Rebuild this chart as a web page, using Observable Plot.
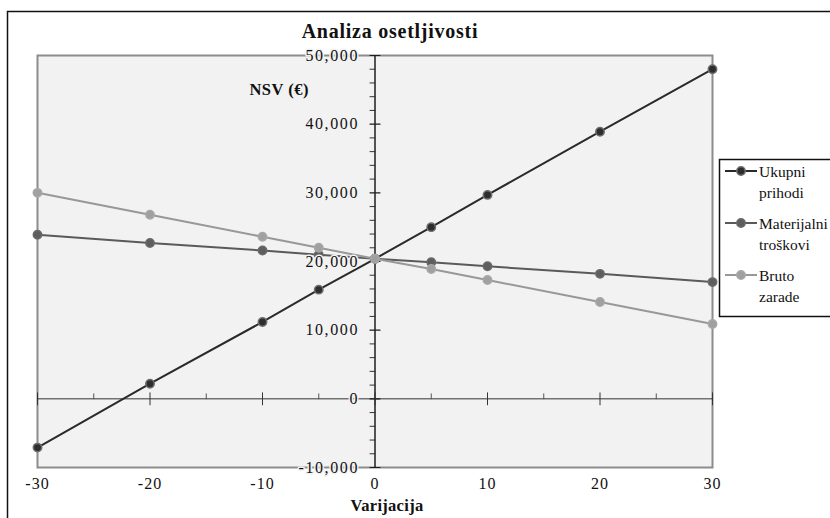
<!DOCTYPE html>
<html>
<head>
<meta charset="utf-8">
<script src="https://cdn.jsdelivr.net/npm/d3@7"></script>
<script src="https://cdn.jsdelivr.net/npm/@observablehq/plot@0.6"></script>
<style>
  html, body { margin: 0; padding: 0; background: #fff; }
  #wrap { position: relative; width: 830px; height: 518px; overflow: hidden; font-family: "Liberation Serif", "Times New Roman", "DejaVu Serif", serif; }
  #wrap > svg { position: absolute; left: 0; top: 0; }
  #wrap svg, #wrap text { font-family: "Liberation Serif", "Times New Roman", "DejaVu Serif", serif !important; }
</style>
</head>
<body>
<div id="wrap"></div>
<script>
// ---- data ----
const variations = [-30, -20, -10, -5, 0, 5, 10, 20, 30];
const ukupniPrihodi = [-7100, 2200, 11200, 15900, 20400, 25000, 29700, 38900, 48000];
const materijalniTroskovi = [23900, 22700, 21600, 21000, 20400, 19900, 19300, 18200, 17000];
const brutoZarade = [30000, 26800, 23600, 22000, 20400, 18900, 17300, 14100, 10900];
const seriesNames = ["Ukupni prihodi", "Materijalni troškovi", "Bruto zarade"];
const legendLabels = [["Ukupni", "prihodi"], ["Materijalni", "troškovi"], ["Bruto", "zarade"]];
const yTicks = [-10000, 0, 10000, 20000, 30000, 40000, 50000];
const xTicks = [-30, -20, -10, 0, 10, 20, 30];
const titleText = "Analiza osetljivosti";
const yLabel = "NSV (€)";
const xLabel = "Varijacija";

// ---- styles ----
const lineColors = ["#2a2a2a", "#5a5a5a", "#989898"];
const markerFill = ["#2e2e2e", "#5e5e5e", "#a0a0a0"];
const markerStroke = ["#6e6e6e", "#6a6a6a", "#a8a8a8"];

const seriesValues = [ukupniPrihodi, materijalniTroskovi, brutoZarade];
const seriesRows = seriesValues.map((vals, s) =>
  vals.map((v, i) => ({ series: seriesNames[s], x: variations[i], y: v })));

const yMinor = d3.range(-10000, 50001, 2000).filter(v => v % 10000 !== 0);
const xMinor = d3.range(-25, 30, 10);
const tickShape = { draw(context, l) { context.moveTo(0, 0); context.lineTo(0, -l); } };
const fmt = d => d.toLocaleString("en-US");

const marks = [
  Plot.frame({ fill: "#f2f2f2", stroke: "#8c8c8c", strokeWidth: 2 }),
  Plot.ruleY([0], { stroke: "#333", strokeWidth: 1 }),
  Plot.ruleX([0], { stroke: "#1e1e1e", strokeWidth: 1.5 }),
  // y ticks
  Plot.vector(yMinor, { x: 0, y: d => d, length: 5, rotate: -90, anchor: "start", shape: tickShape, stroke: "#333", strokeWidth: 1 }),
  Plot.vector(yTicks, { x: 0, y: d => d, length: 10, rotate: 90, anchor: "middle", shape: tickShape, stroke: "#1e1e1e", strokeWidth: 1.2 }),
  // x ticks
  Plot.vector(xMinor, { x: d => d, y: 0, length: 5, rotate: 0, anchor: "start", shape: tickShape, stroke: "#555", strokeWidth: 1 }),
  Plot.vector(xTicks, { x: d => d, y: 0, length: 12, rotate: 0, anchor: "middle", shape: tickShape, stroke: "#333", strokeWidth: 1 })
];

seriesRows.forEach((rows, s) => {
  marks.push(Plot.line(rows, { x: "x", y: "y", stroke: lineColors[s], strokeWidth: 2 }));
  marks.push(Plot.dot(rows, { x: "x", y: "y", r: 4.2, fill: markerFill[s], stroke: markerStroke[s], strokeWidth: 1.5 }));
});

marks.push(
  Plot.text(yTicks, { x: 0, y: d => d, text: fmt, textAnchor: "end", dx: -16, fontSize: 16, fill: "#111",
    stroke: "#f2f2f2", strokeWidth: 3 }),
  Plot.text(xTicks, { x: d => d, frameAnchor: "bottom", dy: 21, text: d => String(d), fontSize: 16, fill: "#111" })
);

const chart = Plot.plot({
  width: 830,
  height: 518,
  marginLeft: 37,
  marginRight: 118,
  marginTop: 55,
  marginBottom: 51,
  x: { domain: [-30, 30], axis: null },
  y: { domain: [-10000, 50000], axis: null },
  style: { fontFamily: "Liberation Serif, serif", background: "transparent", color: "#111" },
  marks
});

// widen tick label spacing (the original's labels are set loosely)
d3.select(chart).selectAll("text").style("letter-spacing", "1px");
d3.select(chart).selectAll('g[text-anchor="end"] text').style("letter-spacing", "1.6px");

const wrap = document.getElementById("wrap");
wrap.appendChild(chart);

// ---- overlay: frame, titles and legend ----
const ov = d3.select(wrap).append("svg")
  .attr("width", 830).attr("height", 518)
  .attr("font-family", "Liberation Serif, serif");

ov.append("rect").attr("x", 7.5).attr("y", 11.5).attr("width", 840).attr("height", 530)
  .attr("fill", "none").attr("stroke", "#111").attr("stroke-width", 1.5);

ov.append("text").attr("x", 390).attr("y", 38).attr("text-anchor", "middle")
  .attr("font-size", 20).attr("font-weight", "bold").attr("letter-spacing", 0.75).attr("fill", "#111")
  .text(titleText);

ov.append("text").attr("x", 309).attr("y", 95).attr("text-anchor", "end")
  .attr("font-size", 16.5).attr("font-weight", "bold").attr("letter-spacing", 0.5).attr("fill", "#111")
  .text(yLabel);

ov.append("text").attr("x", 387).attr("y", 511).attr("text-anchor", "middle")
  .attr("font-size", 16.5).attr("font-weight", "bold").attr("letter-spacing", 0.3).attr("fill", "#111")
  .text(xLabel);

const lg = ov.append("g");
lg.append("rect").attr("x", 719.5).attr("y", 159.5).attr("width", 130).attr("height", 157)
  .attr("fill", "#fff").attr("stroke", "#111").attr("stroke-width", 1.5);
legendLabels.forEach((lines, i) => {
  const cy = 171 + i * 52;
  lg.append("line").attr("x1", 725).attr("x2", 757).attr("y1", cy).attr("y2", cy)
    .attr("stroke", lineColors[i]).attr("stroke-width", 2);
  lg.append("circle").attr("cx", 741).attr("cy", cy).attr("r", 4.2)
    .attr("fill", markerFill[i]).attr("stroke", markerStroke[i]).attr("stroke-width", 1.5);
  lines.forEach((t, j) => {
    lg.append("text").attr("x", 759).attr("y", cy + 6 + j * 21)
      .attr("font-size", 15.5).attr("fill", "#111").text(t);
  });
});
</script>
</body>
</html>
